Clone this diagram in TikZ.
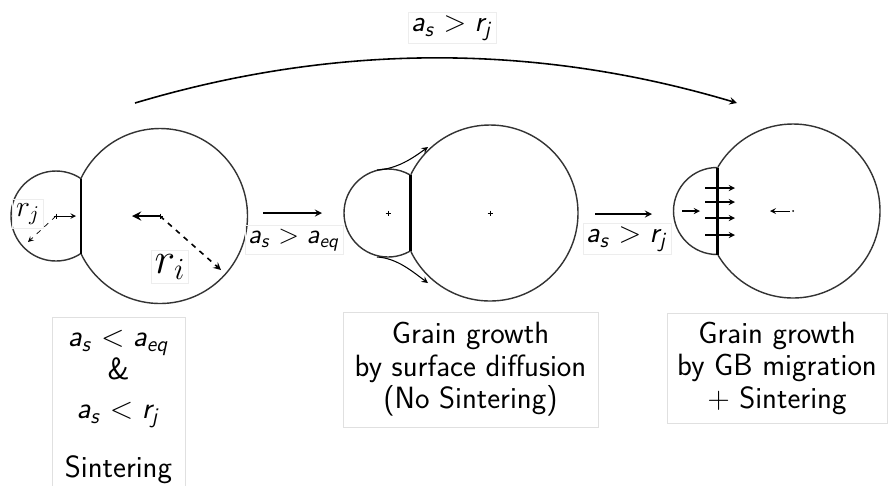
\RequirePackage{fix-cm}
\documentclass[tikz,border=0pt]{standalone}
\usepackage{amsmath}
\usepackage{tikz}

\DeclareMathAlphabet{\mathssl}{OT1}{cmss}{m}{sl}
\newcommand{\ctrmark}[1]{\draw[line width=0.3pt] (#1) +(-2.5,0) -- +(2.5,0) +(0,-2.5) -- +(0,2.5);}

\tikzset{
  grain/.style={draw=black!80, line width=0.8pt},
  gb/.style={line width=1.7pt},
  mv/.style={-stealth, line width=0.6pt},
  lbl/.style={draw=black!7, inner sep=2pt, font=\sffamily\fontsize{17}{20}\selectfont},
  infobox/.style={draw=black!12, align=center, inner xsep=2pt, font=\sffamily\fontsize{17.5}{18.5}\selectfont}
}

\begin{document}
\begin{tikzpicture}[x=0.02cm, y=-0.02cm]
  \useasboundingbox (0,0) rectangle (888,485);

  % grain centres
  \coordinate (s1) at (56,216);
  \coordinate (b1) at (160,216);
  \coordinate (s2) at (388,213);
  \coordinate (b2) at (490,213);
  \coordinate (s3) at (717,211);
  \coordinate (b3) at (793,211);

  % first pair
  \begin{scope}
    \clip (0,0) rectangle (81,485);
    \draw[grain] (s1) circle[radius=45];
  \end{scope}
  \begin{scope}
    \clip (81,0) rectangle (300,485);
    \draw[grain] (b1) circle[radius=87.5];
  \end{scope}
  \draw[gb] (81,178.5) -- (81,253.5);

  \coordinate (rjtip) at (76,216);
  \coordinate (rjend) at (28,242);
  \ctrmark{s1}
  \draw[mv, line width=0.4pt] (s1) -- (rjtip);
  \draw[mv, dashed, line width=0.4pt] (s1) -- (rjend);
  \node[lbl, font=\fontsize{17}{18}\selectfont] (rjlabel) at (28,214) {$r_j$};

  \coordinate (bleft) at (132,216);
  \coordinate (riend) at (221,270);
  \ctrmark{b1}
  \draw[-stealth, line width=1.3pt] (b1) -- (bleft);
  \draw[mv, dashed, line width=0.9pt] (b1) -- (riend);
  \node[lbl, font=\fontsize{25}{28}\selectfont] (rilabel) at (170,267) {$r_i$};

  % second pair
  \begin{scope}
    \clip (300,0) rectangle (410.5,485);
    \draw[grain] (s2) circle[radius=44];
  \end{scope}
  \begin{scope}
    \clip (410.5,0) rectangle (620,485);
    \draw[grain] (b2) circle[radius=88];
  \end{scope}
  \draw[gb] (410.5,175.2) -- (410.5,250.8);
  \ctrmark{s2}
  \ctrmark{b2}

  \coordinate (up1) at (377,170);
  \coordinate (up2) at (428,147);
  \coordinate (dn1) at (377,257);
  \coordinate (dn2) at (428,283);
  \draw[mv] (up1) .. controls (397,169) and (413,158) .. (up2);
  \draw[mv] (dn1) .. controls (397,258) and (413,272) .. (dn2);

  % third pair
  \begin{scope}
    \clip (620,0) rectangle (717.6,485);
    \draw[grain] (s3) circle[radius=43.5];
  \end{scope}
  \begin{scope}
    \clip (717.6,0) rectangle (888,485);
    \draw[grain] (b3) circle[radius=87];
  \end{scope}
  \draw[gb] (717.6,167.5) -- (717.6,254.5);

  \foreach \y [count=\i] in {188,202,218,235} {
    \coordinate (m\i a) at (705,\y);
    \coordinate (m\i b) at (735,\y);
    \draw[mv] (m\i a) -- (m\i b);
  }
  \coordinate (pa) at (682,211);
  \coordinate (pb) at (700,211);
  \draw[mv] (pa) -- (pb);
  \coordinate (bleft3) at (770,211);
  \fill (b3) circle[radius=1];
  \draw[mv, line width=0.5pt] (790,211) -- (bleft3);

  % steps between the pairs
  \coordinate (p12a) at (263,213);
  \coordinate (p12b) at (322,213);
  \draw[mv, line width=0.8pt] (p12a) -- (p12b);
  \node[lbl, font=\sffamily\fontsize{15.5}{18}\selectfont] (c12) at (294,240) {$\mathssl{a_s} > \mathssl{a_{eq}}$};

  \coordinate (p23a) at (595,214);
  \coordinate (p23b) at (652,214);
  \draw[mv, line width=0.8pt] (p23a) -- (p23b);
  \node[lbl] (c23) at (627,239) {$\mathssl{a_s} > \mathssl{r_j}$};

  \coordinate (ta) at (135,103);
  \coordinate (tb) at (737,103);
  \draw[mv, line width=0.9pt] (ta) .. controls (336,43) and (536,43) .. (tb);
  \node[lbl] (ctop) at (452,28) {$\mathssl{a_s} > \mathssl{r_j}$};

  % captions
  \node[infobox, anchor=north, minimum width=2.66cm, minimum height=3.6cm] (box1) at (118.5,317)
    {$\mathssl{a_s} < \mathssl{a_{eq}}$\\ \&\\[4pt] $\mathssl{a_s} < \mathssl{r_j}$\\[15pt] Sintering};
  \node[infobox, minimum width=5.1cm, minimum height=2.3cm] (box2) at (470.5,369.5)
    {Grain growth\\ by surface diffusion\\ (No Sintering)};
  \node[infobox, minimum width=4.4cm, minimum height=2.2cm] (box3) at (777,368)
    {Grain growth\\ by GB migration\\ $+$ Sintering};
\end{tikzpicture}
\end{document}
